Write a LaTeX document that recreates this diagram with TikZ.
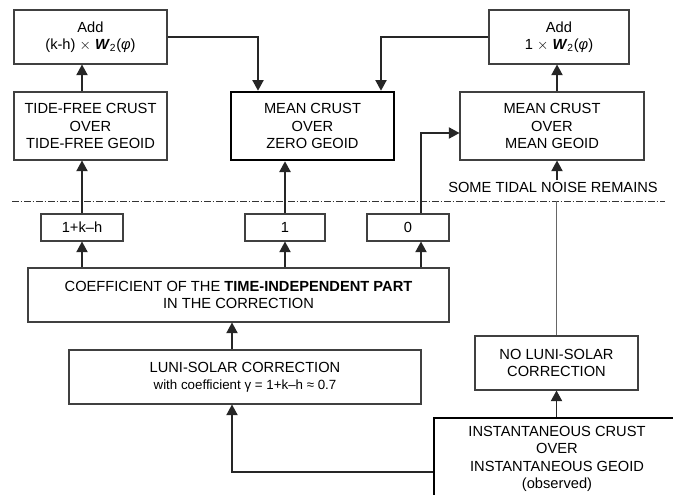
\documentclass[tikz,border=0pt]{standalone}
\usepackage{fontspec}
\setmainfont{Liberation Sans}
\usetikzlibrary{arrows.meta}
\begin{document}
\begin{tikzpicture}[x=0.75pt,y=-0.75pt,
  box/.style={draw=black!75, line width=0.8pt, fill=white, align=center, inner sep=0pt,
    font=\fontsize{11}{13}\selectfont},
  thickbox/.style={box, draw=black, line width=2pt},
  w/.style={minimum width=#1*0.75pt},
  h/.style={minimum height=#1*0.75pt},
  arr/.style={-{Triangle[length=8pt,width=8.5pt]}, line width=0.9pt, draw=black!85},
  ln/.style={line width=0.9pt, draw=black!60},
  dashdot/.style={line width=0.7pt, draw=black!80, dash pattern=on 5pt off 1.5pt on 1pt off 1.5pt}]
\useasboundingbox (0,0) rectangle (673,494);
\clip (0,0) rectangle (673,494);

% boxes
\node[box, w=153, h=54] (addA) at (90.5,37) {Add\\(k-h) $\times$ \textbf{\textit{W}}\textsubscript{2}(\textit{φ})};
\node[box, w=153, h=68] (tidefree) at (90.5,126) {TIDE-FREE CRUST\\OVER\\TIDE-FREE GEOID};
\node[thickbox, w=163, h=68] (meanzero) at (312.5,126) {MEAN CRUST\\OVER\\ZERO GEOID};
\node[box, w=140, h=54] (addB) at (559,37) {Add\\1 $\times$ \textbf{\textit{W}}\textsubscript{2}(\textit{φ})};
\node[box, w=184, h=68] (meanmean) at (552,126) {MEAN CRUST\\OVER\\MEAN GEOID};
\node[font=\fontsize{11}{13}\selectfont, inner sep=1pt] (noise) at (553,187) {SOME TIDAL NOISE REMAINS};

\node[box, w=82, h=27] (k1) at (82,227.5) {1+k–h};
\node[box, w=80, h=27] (one) at (285,227.5) {1};
\node[box, w=82, h=27] (zero) at (408,227.5) {0};
\node[box, w=421, h=54] (coef) at (238.5,295) {COEFFICIENT OF THE \textbf{TIME-INDEPENDENT PART}\\IN THE CORRECTION};
\node[box, w=352, h=54] (luni) at (245,377) {LUNI-SOLAR CORRECTION\\{\fontsize{10}{13}\selectfont with coefficient γ = 1+k–h ≈ 0.7}};
\node[box, w=163, h=54] (noluni) at (556.5,363) {NO LUNI-SOLAR\\CORRECTION};
\node[thickbox, w=246, h=82] (instant) at (557,459) {INSTANTANEOUS CRUST\\OVER\\INSTANTANEOUS GEOID\\(observed)};

% helper coordinates
\coordinate (dl) at (12,201);
\coordinate (dr) at (665,201);
\coordinate (xA) at (82,0);
\coordinate (xF) at (258,0);
\coordinate (xG) at (381,0);
\coordinate (xC) at (421,133);
\coordinate (xE) at (232,472);
\coordinate (xD) at (557,0);

\draw[dashdot] (dl) -- (dr);

% connectors
\draw[arr] (tidefree.north -| xA) -- (addA.south -| xA);
\draw[arr] (k1.north) -- (tidefree.south -| k1);
\draw[arr] (coef.north -| k1) -- (k1.south);
\draw[arr] (coef.north -| one) -- (one.south);
\draw[arr] (one.north) -- (meanzero.south -| one);
\draw[arr] (coef.north -| xC) -- (zero.south -| xC);
\draw[arr] (zero.north -| xC) -- (xC) -- (meanmean.west |- xC);
\draw[arr] (addA.east) -| (meanzero.north -| xF);
\draw[arr] (addB.west) -| (meanzero.north -| xG);
\draw[arr] (meanmean.north -| xD) -- (addB.south -| xD);
\draw[arr] (noise.north -| xD) -- (meanmean.south -| xD);
\draw[ln] (noluni.north) -- (noluni.north |- dl);
\draw[arr] (instant.north -| noluni) -- (noluni.south);
\draw[arr] (instant.west |- xE) -| (luni.south -| xE);
\draw[arr] (luni.north -| xE) -- (coef.south -| xE);
\end{tikzpicture}
\end{document}
